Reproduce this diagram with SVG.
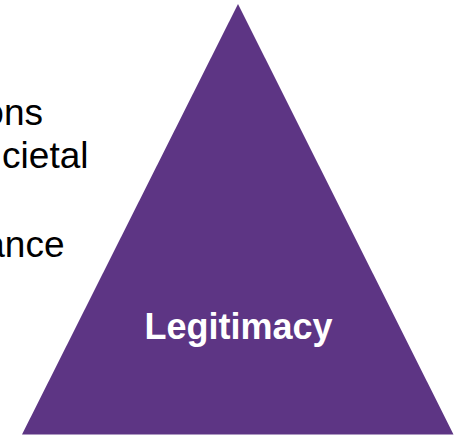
<svg xmlns="http://www.w3.org/2000/svg" width="459" height="436" viewBox="0 0 459 436">
<style>
.side{font-family:"Liberation Sans",Arial,sans-serif;font-size:37px;fill:#000;text-anchor:end}
.lbl{font-family:"Liberation Sans",Arial,sans-serif;font-size:36px;font-weight:bold;fill:#fff;text-anchor:middle}
</style>
<rect width="459" height="436" fill="#fff"/>
<g id="side-text">
<text class="side" x="43" y="125">ons</text>
<text class="side" x="88.5" y="168">cietal</text>
<text class="side" x="64.5" y="257">ance</text>
</g>
<g id="legitimacy">
<polygon points="238,4 22,434.5 453.5,434.5" fill="#5D3584"/>
<text class="lbl" x="238.5" y="339">Legitimacy</text>
</g>
<g id="connectors"/>
</svg>
